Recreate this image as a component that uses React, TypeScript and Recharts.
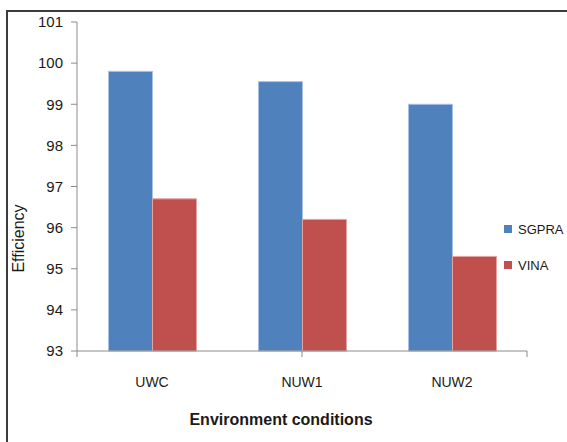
import { BarChart, Bar, XAxis, YAxis, Legend, Label } from 'recharts';

const conditions = ['UWC', 'NUW1', 'NUW2'];
const sgpra = [99.8, 99.55, 99.0];
const vina = [96.7, 96.2, 95.3];
const efficiencyTicks = [93, 94, 95, 96, 97, 98, 99, 100, 101];
const boundaryTicks = [0, 1, 2, 3];

const series = [
  { key: 'SGPRA', color: '#4f81bd', edge: '#a7c2e4' },
  { key: 'VINA', color: '#c0504d', edge: '#e3a3a1' },
];

const rows = conditions.map((name, i) => ({ name, SGPRA: sgpra[i], VINA: vina[i] }));

const FONT = '"Liberation Sans", Arial, sans-serif';

function SideLegend() {
  return (
    <div style={{ fontFamily: FONT, fontSize: 13, color: '#1a1a1a' }}>
      {series.map((s) => (
        <div key={s.key} style={{ display: 'flex', alignItems: 'center', height: 18, marginBottom: 18 }}>
          <span style={{ width: 8, height: 8, background: s.color, marginRight: 6 }} />
          {s.key}
        </div>
      ))}
    </div>
  );
}

function YTitle(props: any) {
  const { x, y, height } = props.viewBox;
  const cx = x + 18;
  const cy = y + height / 2 + 52;
  return (
    <text
      x={cx}
      y={cy}
      transform={`rotate(-90, ${cx}, ${cy})`}
      textAnchor="middle"
      dominantBaseline="central"
      fontFamily={FONT}
      fontSize={16}
      fill="#1a1a1a"
    >
      Efficiency
    </text>
  );
}

function XTitle(props: any) {
  const { x, y, width } = props.viewBox;
  return (
    <text
      x={x + width / 2 - 21}
      y={y + 67}
      textAnchor="middle"
      dominantBaseline="central"
      fontFamily={FONT}
      fontSize={16}
      fontWeight="bold"
      fill="#1a1a1a"
    >
      Environment conditions
    </text>
  );
}

export default function App() {
  return (
    <div
      style={{
        position: 'fixed',
        top: 0,
        left: 0,
        width: 567,
        height: 442,
        overflow: 'hidden',
        background: '#fff',
      }}
    >
      <div
        style={{
          position: 'absolute',
          left: 6,
          top: 10,
          width: 700,
          height: 600,
          borderTop: '2px solid #3c3c3c',
          borderLeft: '2px solid #3c3c3c',
        }}
      />
      <div style={{ position: 'absolute', left: 0, top: 0 }}>
        <BarChart
          width={567}
          height={442}
          data={rows}
          margin={{ top: 22, right: 40, left: 0, bottom: 0 }}
          barCategoryGap="21%"
          barGap={0}
        >
          <XAxis
            xAxisId="bounds"
            type="number"
            domain={[0, 3]}
            ticks={boundaryTicks}
            height={1}
            stroke="#8c8c8c"
            tickSize={6}
            tickFormatter={() => ''}
          />
          <XAxis
            xAxisId="cat"
            dataKey="name"
            height={90}
            axisLine={false}
            tickLine={false}
            tickSize={0}
            tickMargin={25}
            tick={{ fill: '#1a1a1a', fontSize: 14, fontFamily: FONT }}
          >
            <Label content={XTitle} />
          </XAxis>
          <YAxis
            width={77}
            domain={[93, 101]}
            ticks={efficiencyTicks}
            stroke="#8c8c8c"
            tickSize={6}
            tickMargin={8}
            tick={{ fill: '#1a1a1a', fontSize: 15, fontFamily: FONT }}
          >
            <Label content={YTitle} />
          </YAxis>
          <Legend
            align="center"
            verticalAlign="middle"
            content={<SideLegend />}
            wrapperStyle={{ left: 504, top: 220, width: 60 }}
          />
          {series.map((s) => (
            <Bar
              key={s.key}
              xAxisId="cat"
              dataKey={s.key}
              fill={s.color}
              stroke={s.edge}
              strokeWidth={1}
              isAnimationActive={false}
            />
          ))}
        </BarChart>
      </div>
    </div>
  );
}
